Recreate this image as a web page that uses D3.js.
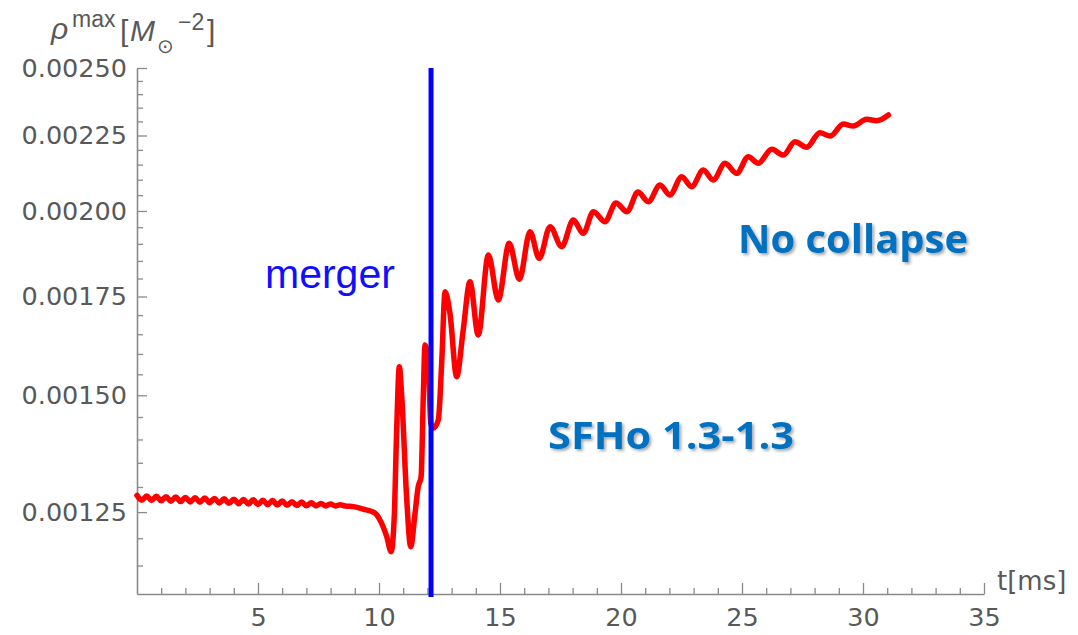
<!DOCTYPE html>
<html>
<head>
<meta charset="utf-8">
<script src="https://cdn.jsdelivr.net/npm/d3@7"></script>
<style>
  body { margin: 0; background: #fff; }
  svg { display: block; }
</style>
</head>
<body>
<svg id="chart"></svg>
<script>
// time after start of simulation [ms]
var timeMs = [
  0, 0.2, 0.4, 0.6, 0.8, 1.0, 1.2, 1.4, 1.6, 1.8,
  2.0, 2.2, 2.4, 2.6, 2.8, 3.0, 3.2, 3.4, 3.6, 3.8,
  4.0, 4.2, 4.4, 4.6, 4.8, 5.0, 5.2, 5.4, 5.6, 5.8,
  6.0, 6.2, 6.4, 6.6, 6.8, 7.0, 7.2, 7.4, 7.6, 7.8,
  8.0, 8.2, 8.4, 8.6, 8.8, 9.0, 9.34, 9.83, 10.04, 10.32,
  10.50, 10.63, 10.73, 10.84, 10.94, 11.14, 11.31, 11.49, 11.62, 11.74,
  11.83, 11.90, 12.04, 12.14, 12.24, 12.45, 12.59, 12.73, 12.93, 13.21,
  13.48, 13.76, 14.10, 14.52, 14.93, 15.38, 15.80, 16.24, 16.62, 17.07,
  17.55, 18.03, 18.44, 18.86, 19.34, 19.79, 20.25, 20.70, 21.13, 21.61,
  22.02, 22.51, 22.92, 23.40, 23.81, 24.30, 24.78, 25.26, 25.67, 26.23,
  26.71, 27.19, 27.67, 28.22, 28.64, 29.19, 29.60, 30.15, 30.57, 31.05
];

// maximum rest-mass density [M_sun^-2]
var rhoMax = [
  0.0012830, 0.0012735, 0.0012818, 0.0012728, 0.0012811, 0.0012721, 0.0012804, 0.0012714, 0.0012797, 0.0012707,
  0.0012790, 0.0012700, 0.0012783, 0.0012693, 0.0012776, 0.0012686, 0.0012769, 0.0012679, 0.0012762, 0.0012672,
  0.0012755, 0.0012665, 0.0012748, 0.0012658, 0.0012741, 0.0012651, 0.0012734, 0.0012644, 0.0012727, 0.0012637,
  0.0012718, 0.0012632, 0.0012706, 0.0012630, 0.0012697, 0.0012624, 0.0012684, 0.0012622, 0.0012671, 0.0012621,
  0.0012658, 0.0012620, 0.0012645, 0.0012618, 0.0012615, 0.0012602, 0.0012560, 0.0012481, 0.0012346, 0.0012028,
  0.0011750, 0.0012410, 0.0014208, 0.0015683, 0.0014966, 0.0012803, 0.0011842, 0.0012481, 0.0013004, 0.0013209,
  0.0014966, 0.0016224, 0.0015767, 0.0014357, 0.0014245, 0.0014431, 0.0015767, 0.0017632, 0.0017055, 0.0015441,
  0.0016608, 0.0017909, 0.0016479, 0.0018671, 0.0017405, 0.0019015, 0.0017976, 0.0019362, 0.0018575, 0.0019514,
  0.0018914, 0.0019719, 0.0019314, 0.0019976, 0.0019667, 0.0020250, 0.0019976, 0.0020600, 0.0020291, 0.0020827,
  0.0020504, 0.0021098, 0.0020771, 0.0021320, 0.0020990, 0.0021544, 0.0021210, 0.0021767, 0.0021544, 0.0022020,
  0.0021825, 0.0022283, 0.0022089, 0.0022598, 0.0022482, 0.0022907, 0.0022836, 0.0023076, 0.0023025, 0.0023231
];

var mergerTime = 12.15;

var xTicks = [5, 10, 15, 20, 25, 30, 35];
var yTicks = [0.00125, 0.00150, 0.00175, 0.00200, 0.00225, 0.00250];

var data = timeMs.map(function(t, i) { return { t: t, rho: rhoMax[i] }; });

var svgWidth = 1078, svgHeight = 635;
var axisColor = "#8a8a8a", labelColor = "#595959";

var svg = d3.select("#chart")
    .attr("width", svgWidth)
    .attr("height", svgHeight);

var defs = svg.append("defs");
defs.append("filter")
    .attr("id", "shadow")
    .attr("x", "-10%").attr("y", "-20%")
    .attr("width", "130%").attr("height", "160%")
  .append("feDropShadow")
    .attr("dx", 2).attr("dy", 2)
    .attr("stdDeviation", 1.5)
    .attr("flood-color", "#000")
    .attr("flood-opacity", 0.35);

var x = d3.scaleLinear().domain([0, 35]).range([137, 984]);
var y = d3.scaleLog().domain([0.0011, 0.0025]).range([594, 68]);

// x axis: major ticks every 5 ms, minor every 1 ms (pointing inward)
var xMinor = d3.range(1, 35).filter(function(d) { return d % 5 !== 0; });

var gx = svg.append("g").attr("transform", "translate(0,594)");
gx.call(d3.axisBottom(x).tickValues(xMinor).tickSize(-6).tickSizeOuter(0).tickFormat(""));
gx.append("g").call(d3.axisBottom(x).tickValues(xTicks).tickSize(-11).tickSizeOuter(0).tickPadding(14))
    .select(".domain").remove();

// y axis: log scale with minor ticks every 0.00005
var yMinor = d3.range(23, 50).filter(function(k) { return k % 5 !== 0; })
    .map(function(k) { return +(k * 0.00005).toFixed(5); });

var gy = svg.append("g").attr("transform", "translate(137,0)");
gy.call(d3.axisLeft(y).tickValues(yMinor).tickSize(-6).tickSizeOuter(0).tickFormat(""));
gy.append("g").call(d3.axisLeft(y).tickValues(yTicks).tickSize(-10).tickSizeOuter(0)
        .tickPadding(10).tickFormat(d3.format(".5f")))
    .select(".domain").remove();

svg.selectAll(".domain").attr("stroke", axisColor).attr("stroke-width", 1.6);
svg.selectAll(".tick line").attr("stroke", axisColor).attr("stroke-width", 1.3);
svg.selectAll(".tick text")
    .attr("fill", labelColor)
    .style("font-family", "'DejaVu Sans', sans-serif")
    .style("font-size", "25.5px");

// axis titles
svg.append("text")
    .attr("x", 997).attr("y", 590)
    .attr("fill", labelColor)
    .style("font-family", "'DejaVu Sans', sans-serif")
    .style("font-size", "26px")
    .text("t[ms]");

var yTitle = svg.append("text")
    .attr("fill", labelColor)
    .style("font-family", "'Liberation Sans', Arial, sans-serif")
    .style("font-size", "30px");
yTitle.append("tspan").attr("x", 51).attr("y", 39).style("font-style", "italic").text("ρ");
yTitle.append("tspan").attr("x", 72).attr("y", 27).style("font-size", "23px").text("max");
yTitle.append("tspan").attr("x", 120).attr("y", 41).text("[");
yTitle.append("tspan").attr("x", 130).attr("y", 41).style("font-style", "italic").text("M");
yTitle.append("tspan").attr("x", 157).attr("y", 53)
    .style("font-family", "'DejaVu Sans', sans-serif").style("font-size", "20px").text("⊙");
yTitle.append("tspan").attr("x", 178).attr("y", 30).style("font-size", "23px").text("−2");
yTitle.append("tspan").attr("x", 207).attr("y", 41).text("]");

// red density curve
var line = d3.line()
    .x(function(d) { return x(d.t); })
    .y(function(d) { return y(d.rho); })
    .curve(d3.curveMonotoneX);

svg.append("path")
    .datum(data)
    .attr("fill", "none")
    .attr("stroke", "#ff0000")
    .attr("stroke-width", 5.5)
    .attr("stroke-linejoin", "round")
    .attr("stroke-linecap", "round")
    .attr("d", line);

// merger marker
svg.append("line")
    .attr("x1", x(mergerTime)).attr("x2", x(mergerTime))
    .attr("y1", y(0.0025)).attr("y2", 597)
    .attr("stroke", "#0000ff")
    .attr("stroke-width", 5);

svg.append("text")
    .attr("x", 265).attr("y", 288)
    .attr("fill", "#1010ff")
    .style("font-family", "'Liberation Sans', Arial, sans-serif")
    .style("font-size", "41px")
    .text("merger");

// annotations
svg.append("text")
    .attr("x", 738).attr("y", 253)
    .attr("fill", "#0070c0")
    .attr("filter", "url(#shadow)")
    .attr("textLength", 230).attr("lengthAdjust", "spacingAndGlyphs")
    .style("font-family", "'Open Sans', sans-serif")
    .style("font-weight", "700")
    .style("font-size", "40px")
    .text("No collapse");

svg.append("text")
    .attr("x", 548).attr("y", 449)
    .attr("fill", "#0070c0")
    .attr("filter", "url(#shadow)")
    .attr("textLength", 246).attr("lengthAdjust", "spacingAndGlyphs")
    .style("font-family", "'Open Sans', sans-serif")
    .style("font-weight", "700")
    .style("font-size", "38px")
    .text("SFHo 1.3-1.3");
</script>
</body>
</html>
